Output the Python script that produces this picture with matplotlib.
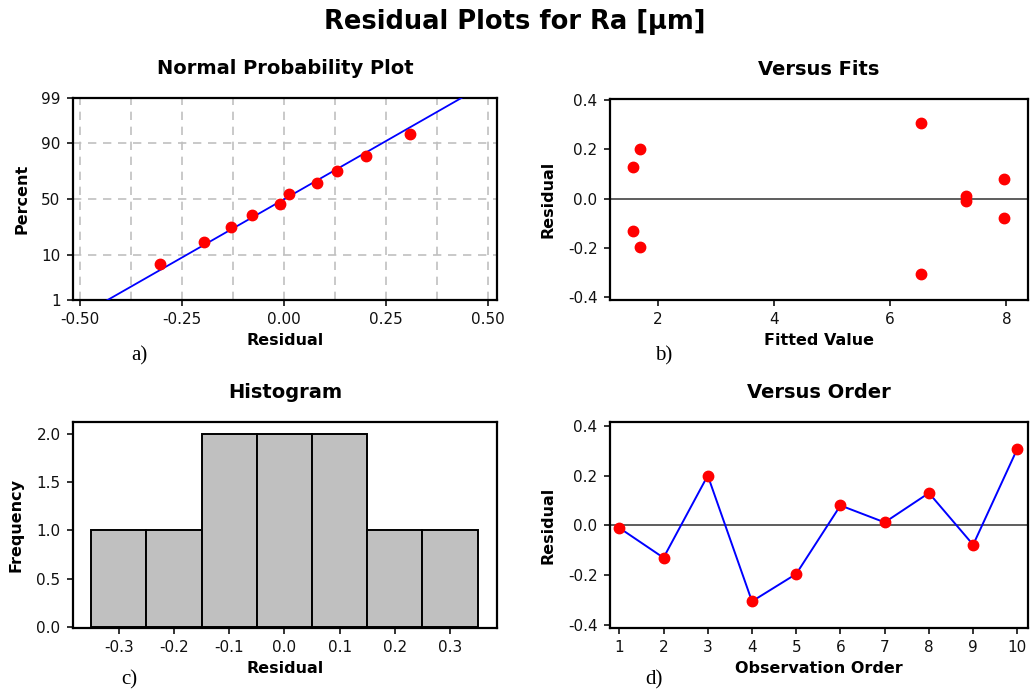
import numpy as np
import matplotlib
matplotlib.use("Agg")
import matplotlib.pyplot as plt
from statistics import NormalDist

# ---------------- data ----------------
order = [1, 2, 3, 4, 5, 6, 7, 8, 9, 10]
residuals = [-0.010, -0.130, 0.200, -0.305, -0.195, 0.080, 0.012, 0.130, -0.078, 0.308]
fitted = [7.30, 1.58, 1.70, 6.53, 1.70, 7.95, 7.30, 1.58, 7.95, 6.53]
pct_ticks = [1, 10, 50, 90, 99]
hist_edges = [-0.35, -0.25, -0.15, -0.05, 0.05, 0.15, 0.25, 0.35]

plt.rcParams['font.family'] = ['DejaVu Sans']
W, H = 1030, 694
fig = plt.figure(figsize=(W / 100, H / 100), dpi=100)

def ax_px(l, t, r, b):
    return fig.add_axes([l / W, 1 - b / H, (r - l) / W, (b - t) / H])

RED = '#ff0000'
BLUE = '#0000ff'
TFS = 14
LFS = 11.5
KFS = 11
TPAD = 17.5

def style(ax):
    for s in ax.spines.values():
        s.set_linewidth(1.6)
        s.set_color('black')
    ax.tick_params(direction='out', length=4, width=1.2, labelsize=KFS,
                   top=False, right=False, pad=5, colors='#111111')

nd = NormalDist()
z = lambda p: nd.inv_cdf(p / 100.0)

# ---------------- a) Normal probability plot ----------------
ax = ax_px(73, 98, 497, 300)
style(ax)
r = np.array(residuals)
srt = np.sort(r)
n = len(srt)
pp = [(i - 0.3) / (n + 0.4) * 100 for i in range(1, n + 1)]
zz = [z(p) for p in pp]
mu, sd = r.mean(), r.std(ddof=1)
zl = np.linspace(z(0.5), z(99.5), 50)
ax.plot(mu + sd * zl, zl, color=BLUE, lw=1.3, zorder=3)
ax.plot(srt, zz, 'o', color=RED, ms=7.5, zorder=4, mec=RED)
ax.set_xlim(-0.517, 0.522)
ax.set_ylim(z(1), z(99))
ax.set_xticks([-0.5, -0.25, 0, 0.25, 0.5])
ax.set_xticklabels(['-0.50', '-0.25', '0.00', '0.25', '0.50'])
ax.set_yticks([z(p) for p in pct_ticks])
ax.set_yticklabels([str(p) for p in pct_ticks])
for xv in np.arange(-0.5, 0.51, 0.125):
    ax.axvline(xv, color='#c0c0c0', lw=1.2, ls=(0, (5, 4)), zorder=1)
for p in [10, 50, 90]:
    ax.axhline(z(p), color='#c0c0c0', lw=1.2, ls=(0, (5, 4)), zorder=1)
ax.set_title('Normal Probability Plot', fontsize=TFS, fontweight='bold', pad=TPAD)
ax.set_xlabel('Residual', fontsize=LFS, fontweight='bold', labelpad=4)
ax.set_ylabel('Percent', fontsize=LFS, fontweight='bold', labelpad=8)

# ---------------- b) Versus fits ----------------
ax = ax_px(610, 99, 1028, 300)
style(ax)
ax.axhline(0, color='#505050', lw=1.3, zorder=1)
ax.plot(fitted, residuals, 'o', color=RED, ms=7.5, zorder=3)
ax.set_xlim(1.18, 8.37)
ax.set_ylim(-0.411, 0.404)
ax.set_xticks([2, 4, 6, 8])
ax.set_yticks([-0.4, -0.2, 0.0, 0.2, 0.4])
ax.set_yticklabels(['-0.4', '-0.2', '0.0', '0.2', '0.4'])
ax.set_title('Versus Fits', fontsize=TFS, fontweight='bold', pad=TPAD)
ax.set_xlabel('Fitted Value', fontsize=LFS, fontweight='bold', labelpad=4)
ax.set_ylabel('Residual', fontsize=LFS, fontweight='bold', labelpad=9)

# ---------------- c) Histogram ----------------
ax = ax_px(73, 422, 497, 628)
style(ax)
ax.hist(residuals, bins=hist_edges, color='#c0c0c0', edgecolor='black', lw=1.4)
ax.set_xlim(-0.383, 0.385)
ax.set_ylim(-0.014, 2.128)
ax.set_xticks([-0.3, -0.2, -0.1, 0.0, 0.1, 0.2, 0.3])
ax.set_xticklabels(['-0.3', '-0.2', '-0.1', '0.0', '0.1', '0.2', '0.3'])
ax.set_yticks([0.0, 0.5, 1.0, 1.5, 2.0])
ax.set_yticklabels(['0.0', '0.5', '1.0', '1.5', '2.0'])
ax.set_title('Histogram', fontsize=TFS, fontweight='bold', pad=TPAD)
ax.set_xlabel('Residual', fontsize=LFS, fontweight='bold', labelpad=4)
ax.set_ylabel('Frequency', fontsize=LFS, fontweight='bold', labelpad=9)

# ---------------- d) Versus order ----------------
ax = ax_px(610, 422, 1028, 628)
style(ax)
ax.axhline(0, color='#505050', lw=1.3, zorder=1)
ax.plot(order, residuals, '-', color=BLUE, lw=1.4, zorder=2)
ax.plot(order, residuals, 'o', color=RED, ms=7.5, zorder=3)
ax.set_xlim(0.79, 10.24)
ax.set_ylim(-0.412, 0.415)
ax.set_xticks(order)
ax.set_yticks([-0.4, -0.2, 0.0, 0.2, 0.4])
ax.set_yticklabels(['-0.4', '-0.2', '0.0', '0.2', '0.4'])
ax.set_title('Versus Order', fontsize=TFS, fontweight='bold', pad=TPAD)
ax.set_xlabel('Observation Order', fontsize=LFS, fontweight='bold', labelpad=4)
ax.set_ylabel('Residual', fontsize=LFS, fontweight='bold', labelpad=9)

# ---------------- titles & panel letters ----------------
fig.text(0.5, 1 - 22 / H, 'Residual Plots for Ra [µm]', ha='center', va='center',
         fontsize=18.5, fontweight='bold')
serif = ['Liberation Serif', 'DejaVu Serif']
for lbl, x, y in [('a)', 139, 356), ('b)', 664, 356), ('c)', 129, 680), ('d)', 654, 680)]:
    fig.text(x / W, 1 - y / H, lbl, ha='center', va='center', fontsize=15, family=serif)

fig.savefig('out.png', dpi=100)
